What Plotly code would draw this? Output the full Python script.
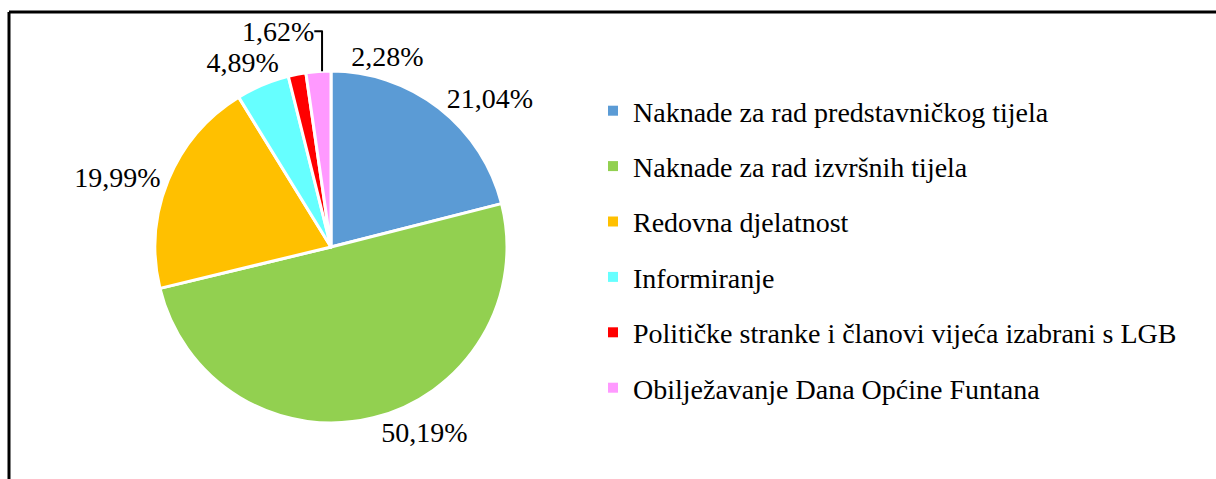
import plotly.graph_objects as go

categories = [
    "Naknade za rad predstavničkog tijela",
    "Naknade za rad izvršnih tijela",
    "Redovna djelatnost",
    "Informiranje",
    "Političke stranke i članovi vijeća izabrani s LGB",
    "Obilježavanje Dana Općine Funtana",
]
values = [21.04, 50.19, 19.99, 4.89, 1.62, 2.28]
colors = ["#5B9BD5", "#92D050", "#FFC000", "#66FFFF", "#FF0000", "#FF99FF"]
labels_text = [f"{v:.2f}%".replace(".", ",") for v in values]

FONT = "Liberation Serif, Times New Roman, serif"
W, H = 1216, 479
DOMAIN = dict(x=[155 / W, 507 / W], y=[1 - 423 / H, 1 - 71 / H])

# labels of the thin slices near 12 o'clock are spread left/right (as in the original)
small = [v < 5 for v in values]
text_main = ["" if s else t for t, s in zip(labels_text, small)]
text_small = [t if s else "" for t, s in zip(labels_text, small)]

fig = go.Figure()
# visible pie, clockwise from 12 o'clock
fig.add_trace(go.Pie(
    labels=categories,
    values=values,
    text=text_main,
    texttemplate="%{text}",
    textposition="outside",
    textfont=dict(family=FONT, size=28, color="black"),
    marker=dict(colors=colors, line=dict(color="white", width=3)),
    sort=False,
    direction="clockwise",
    rotation=0,
    showlegend=False,
    automargin=False,
    hoverinfo="label+percent",
    domain=DOMAIN,
))
# transparent twin pie used only to place the small-slice labels around 12 o'clock
fig.add_trace(go.Pie(
    labels=categories[::-1],
    values=values[::-1],
    text=text_small[::-1],
    texttemplate="%{text}",
    textposition="outside",
    textfont=dict(family=FONT, size=28, color="black"),
    marker=dict(colors=["rgba(0,0,0,0)"] * len(values), line=dict(width=0)),
    sort=False,
    direction="counterclockwise",
    rotation=0,
    showlegend=False,
    automargin=False,
    hoverinfo="skip",
    domain=DOMAIN,
))

for name, col in zip(categories, colors):
    fig.add_trace(go.Scatter(
        x=[None], y=[None], mode="markers", name=name,
        marker=dict(symbol="square", size=10, color=col),
        legendgroup=name, showlegend=True,
    ))

fig.update_layout(
    width=W, height=H,
    margin=dict(l=0, r=0, t=0, b=0, autoexpand=False),
    paper_bgcolor="white", plot_bgcolor="white",
    font=dict(family=FONT, size=28, color="black"),
    xaxis=dict(visible=False), yaxis=dict(visible=False),
    legend=dict(
        x=593 / W, y=1 - 86 / H, xanchor="left", yanchor="top",
        font=dict(family=FONT, size=28, color="black"),
        tracegroupgap=16, bgcolor="rgba(0,0,0,0)",
    ),
    shapes=[
        dict(type="line", xref="paper", yref="paper",
             x0=9 / W, x1=1.01, y0=1 - 12 / H, y1=1 - 12 / H,
             line=dict(color="black", width=3)),
        dict(type="line", xref="paper", yref="paper",
             x0=9 / W, x1=9 / W, y0=1 - 12 / H, y1=-0.01,
             line=dict(color="black", width=3)),
    ],
)

post = (
    "document.body.style.margin='0';"
    "document.body.style.padding='0';"
    "var d=document.getElementById('{plot_id}');"
    "d.style.position='absolute';d.style.left='0px';d.style.top='0px';"
)
fig.write_html("out.html", post_script=post, config={"displayModeBar": False})
